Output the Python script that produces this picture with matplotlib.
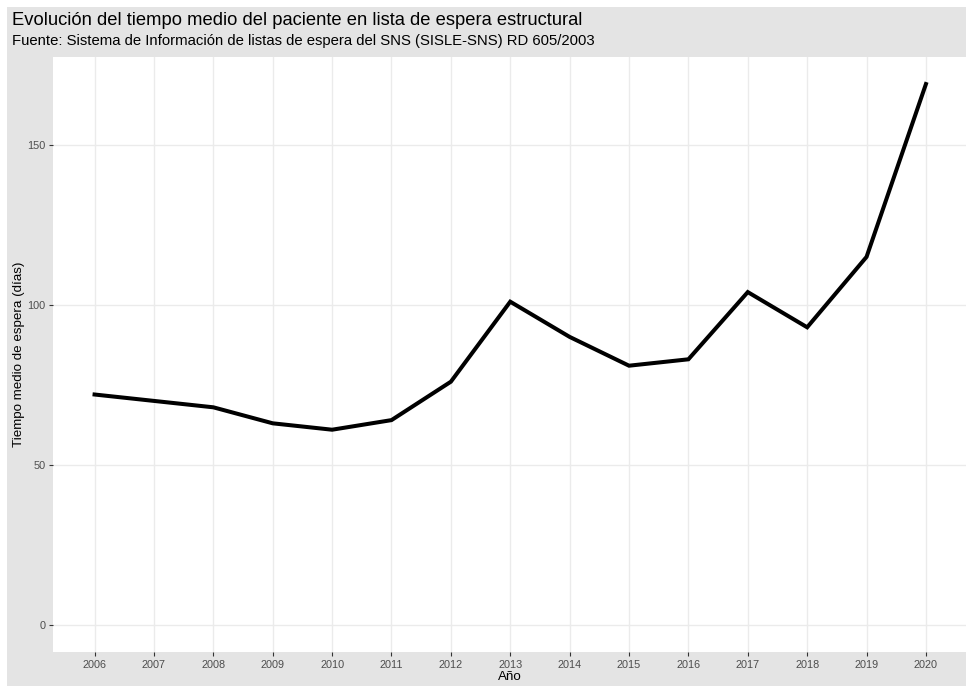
"""Evolución del tiempo medio de espera estructural (SISLE-SNS), estilo ggplot."""

import matplotlib

matplotlib.use("Agg")
import matplotlib.pyplot as plt
from matplotlib.patches import Rectangle

plt.rcParams["font.family"] = ["Liberation Sans", "DejaVu Sans"]

YEARS = [2006, 2007, 2008, 2009, 2010, 2011, 2012, 2013, 2014, 2015, 2016, 2017, 2018, 2019, 2020]
MEAN_WAIT_DAYS = [72, 70, 68, 63, 61, 64, 76, 101, 90, 81, 83, 104, 93, 115, 169]
Y_TICKS = [0, 50, 100, 150]

TITLE = "Evolución del tiempo medio del paciente en lista de espera estructural"
SUBTITLE = "Fuente: Sistema de Información de listas de espera del SNS (SISLE-SNS) RD 605/2003"

W, H = 966, 686
BG_GRAY = "#E4E4E4"
GRID = "#EBEBEB"
TICK_TEXT = "#4D4D4D"


def px_box(left, top, right, bottom):
    """Pixel box -> figure fraction [x0, y0, w, h]."""
    return [left / W, 1 - bottom / H, (right - left) / W, (bottom - top) / H]


def main() -> None:
    fig = plt.figure(figsize=(W / 100, H / 100), dpi=100)
    fig.patch.set_facecolor("white")
    fig.patches.append(
        Rectangle((7 / W, 0), 1 - 7 / W, 1 - 7 / H, transform=fig.transFigure,
                  facecolor=BG_GRAY, edgecolor="none", zorder=-5)
    )

    ax = fig.add_axes(px_box(53, 57, 967.5, 652))
    ax.set_facecolor("white")

    ymax = max(MEAN_WAIT_DAYS)
    span = YEARS[-1] - YEARS[0]
    ax.set_xlim(YEARS[0] - 0.05 * span, YEARS[-1] + 0.05 * span)
    ax.set_ylim(-0.05 * ymax, ymax * 1.05)

    ax.plot(YEARS, MEAN_WAIT_DAYS, color="black", linewidth=2.9,
            solid_joinstyle="miter", zorder=3)

    ax.set_xticks(YEARS)
    ax.set_xticklabels([str(y) for y in YEARS])
    ax.set_yticks(Y_TICKS)
    ax.grid(True, color=GRID, linewidth=1.0)
    ax.set_axisbelow(True)
    for spine in ax.spines.values():
        spine.set_visible(False)
    ax.tick_params(axis="both", length=3, width=0.8, color="#333333",
                   labelsize=7.8, labelcolor=TICK_TEXT, pad=2.5)

    ax.set_xlabel("Año", fontsize=9.6, color="black", labelpad=1)
    ax.set_ylabel("Tiempo medio de espera (días)", fontsize=9.6, color="black", labelpad=1.5)

    fig.text(12 / W, 1 - 25 / H, TITLE, fontsize=13.2, color="black", va="baseline")
    fig.text(12 / W, 1 - 45 / H, SUBTITLE, fontsize=10.7, color="black", va="baseline")

    fig.savefig("out.png", dpi=100)
    plt.close(fig)


if __name__ == "__main__":
    main()
